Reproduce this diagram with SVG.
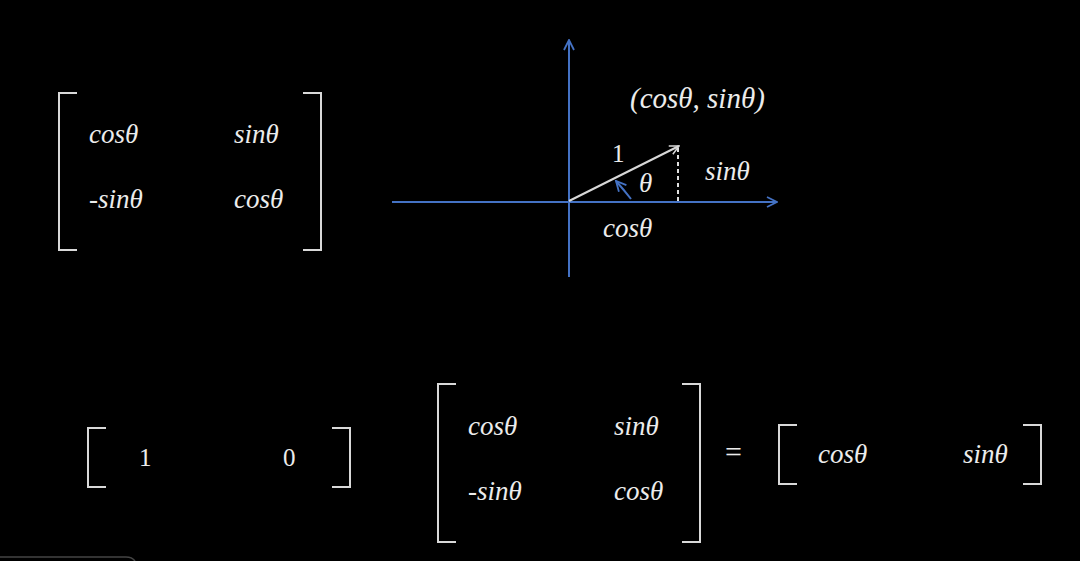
<svg xmlns="http://www.w3.org/2000/svg" width="1080" height="561" viewBox="0 0 1080 561">
<defs>
<style>
.bk{fill:none;stroke:#d9d9d9;stroke-width:2}
.t{font-family:"Liberation Serif",serif;font-style:italic;font-size:27px;fill:#ececec}
.n{font-family:"Liberation Serif",serif;font-size:25px;fill:#ececec}
.ax{stroke:#4472c4;stroke-width:2;fill:none}
</style>
<marker id="ab" viewBox="0 0 12 12" refX="11" refY="6" markerWidth="12" markerHeight="12" markerUnits="userSpaceOnUse" orient="auto"><path d="M1,1 L11,6 L1,11" fill="none" stroke="#4472c4" stroke-width="1.8"/></marker>
<marker id="aw" viewBox="0 0 12 12" refX="11" refY="6" markerWidth="11" markerHeight="11" markerUnits="userSpaceOnUse" orient="auto"><path d="M1,1 L11,6 L1,11" fill="none" stroke="#d9d9d9" stroke-width="1.6"/></marker>
</defs>
<rect width="1080" height="561" fill="#000"/>
<g id="matrix-top">
<path class="bk" d="M77,93 H59 V250 H77"/>
<path class="bk" d="M303,93 H321 V250 H303"/>
<text class="t" x="89" y="143">cosθ</text>
<text class="t" x="234" y="143">sinθ</text>
<text class="t" x="89" y="208">-sinθ</text>
<text class="t" x="234" y="208">cosθ</text>
</g>
<g id="axes">
<line class="ax" x1="392" y1="202" x2="777" y2="202" marker-end="url(#ab)"/>
<line class="ax" x1="569" y1="277" x2="569" y2="40" marker-end="url(#ab)"/>
</g>
<g id="connectors">
<line x1="569" y1="201" x2="679" y2="146" stroke="#d9d9d9" stroke-width="2" marker-end="url(#aw)"/>
<line x1="678" y1="148" x2="678" y2="201" stroke="#e0e0e0" stroke-width="2" stroke-dasharray="4,3"/>
<path d="M631,199 Q624,190 616,181" stroke="#4472c4" stroke-width="2" fill="none" marker-end="url(#ab)"/>
</g>
<g id="labels">
<text class="t" x="630" y="108" style="font-size:29px">(cosθ, sinθ)</text>
<text class="n" x="612" y="162">1</text>
<text class="t" x="639" y="192">θ</text>
<text class="t" x="705" y="180">sinθ</text>
<text class="t" x="603" y="237">cosθ</text>
</g>
<g id="vector-10">
<path class="bk" d="M106,428 H88 V487 H106"/>
<path class="bk" d="M332,428 H350 V487 H332"/>
<text class="n" x="139" y="466">1</text>
<text class="n" x="283" y="466">0</text>
</g>
<g id="matrix-bottom">
<path class="bk" d="M456,384 H438 V542 H456"/>
<path class="bk" d="M682,384 H700 V542 H682"/>
<text class="t" x="468" y="435">cosθ</text>
<text class="t" x="614" y="435">sinθ</text>
<text class="t" x="468" y="500">-sinθ</text>
<text class="t" x="614" y="500">cosθ</text>
</g>
<g id="equals">
<text class="n" x="725" y="462" style="font-size:30px">=</text>
</g>
<g id="vector-result">
<path class="bk" d="M797,425 H779 V484 H797"/>
<path class="bk" d="M1023,425 H1041 V484 H1023"/>
<text class="t" x="818" y="463">cosθ</text>
<text class="t" x="963" y="463">sinθ</text>
</g>
<path d="M0,557 H126 Q132,557 135,561" fill="none" stroke="#444" stroke-width="1.5"/>
</svg>
